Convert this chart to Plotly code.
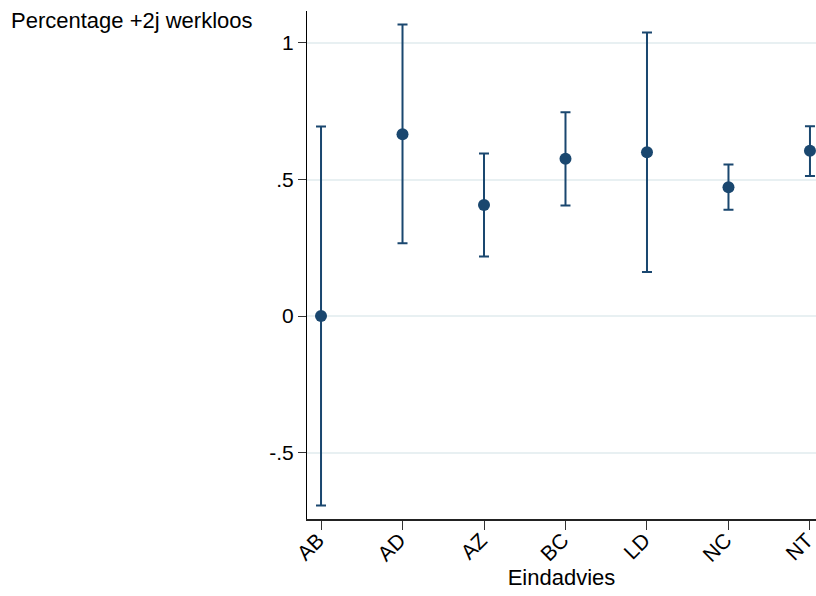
import plotly.graph_objects as go

# Eindadvies categories with point estimate and 95% confidence bounds
categories = ["AB", "AD", "AZ", "BC", "LD", "NC", "NT"]
estimate = [0.000, 0.666, 0.407, 0.576, 0.600, 0.472, 0.605]
ci_lower = [-0.694, 0.267, 0.218, 0.405, 0.161, 0.389, 0.513]
ci_upper = [0.694, 1.068, 0.595, 0.746, 1.038, 0.555, 0.695]

y_tickvals = [-0.5, 0, 0.5, 1]
y_ticktext = ["-.5", "0", ".5", "1"]

navy = "#1a476f"
font_family = "Liberation Sans, Arial, sans-serif"

x_idx = list(range(len(categories)))
err_plus = [u - e for u, e in zip(ci_upper, estimate)]
err_minus = [e - l for e, l in zip(estimate, ci_lower)]

fig = go.Figure()
fig.add_trace(go.Scatter(
    x=x_idx,
    y=estimate,
    mode="markers",
    marker=dict(color=navy, size=12),
    error_y=dict(
        type="data",
        symmetric=False,
        array=err_plus,
        arrayminus=err_minus,
        color=navy,
        thickness=2,
        width=5,
    ),
    showlegend=False,
    cliponaxis=False,
))

fig.update_layout(
    width=816,
    height=596,
    margin=dict(l=307, r=0, t=11, b=77, autoexpand=False),
    paper_bgcolor="white",
    plot_bgcolor="white",
    font=dict(family=font_family, size=21, color="black"),
    xaxis=dict(
        range=[-0.172, 6.074],
        tickvals=x_idx,
        ticktext=categories,
        tickangle=-45,
        ticklabeloverflow="allow",
        ticklabelstandoff=-10,
        ticklabelshift=-3,
        ticks="outside",
        ticklen=9,
        tickwidth=1.2,
        tickcolor="#333333",
        showline=True,
        linecolor="#222222",
        linewidth=1.5,
        showgrid=False,
        zeroline=False,
        automargin=False,
        title=dict(text="Eindadvies", font=dict(size=22), standoff=4),
        tickfont=dict(size=21),
    ),
    yaxis=dict(
        range=[-0.743, 1.117],
        tickvals=y_tickvals,
        ticktext=y_ticktext,
        ticks="outside",
        ticklen=8,
        tickwidth=1.2,
        tickcolor="#333333",
        showline=True,
        linecolor="black",
        linewidth=1.2,
        showgrid=True,
        gridcolor="#e8f0f2",
        gridwidth=1.5,
        zeroline=False,
        automargin=False,
        tickfont=dict(size=21),
    ),
    annotations=[dict(
        text="Percentage +2j werkloos",
        xref="paper", yref="paper",
        x=-307 / 509, y=1,
        xanchor="left", yanchor="top",
        xshift=9, yshift=5,
        showarrow=False,
        font=dict(size=22, family=font_family, color="black"),
    )],
)

fig.write_html("out.html")
